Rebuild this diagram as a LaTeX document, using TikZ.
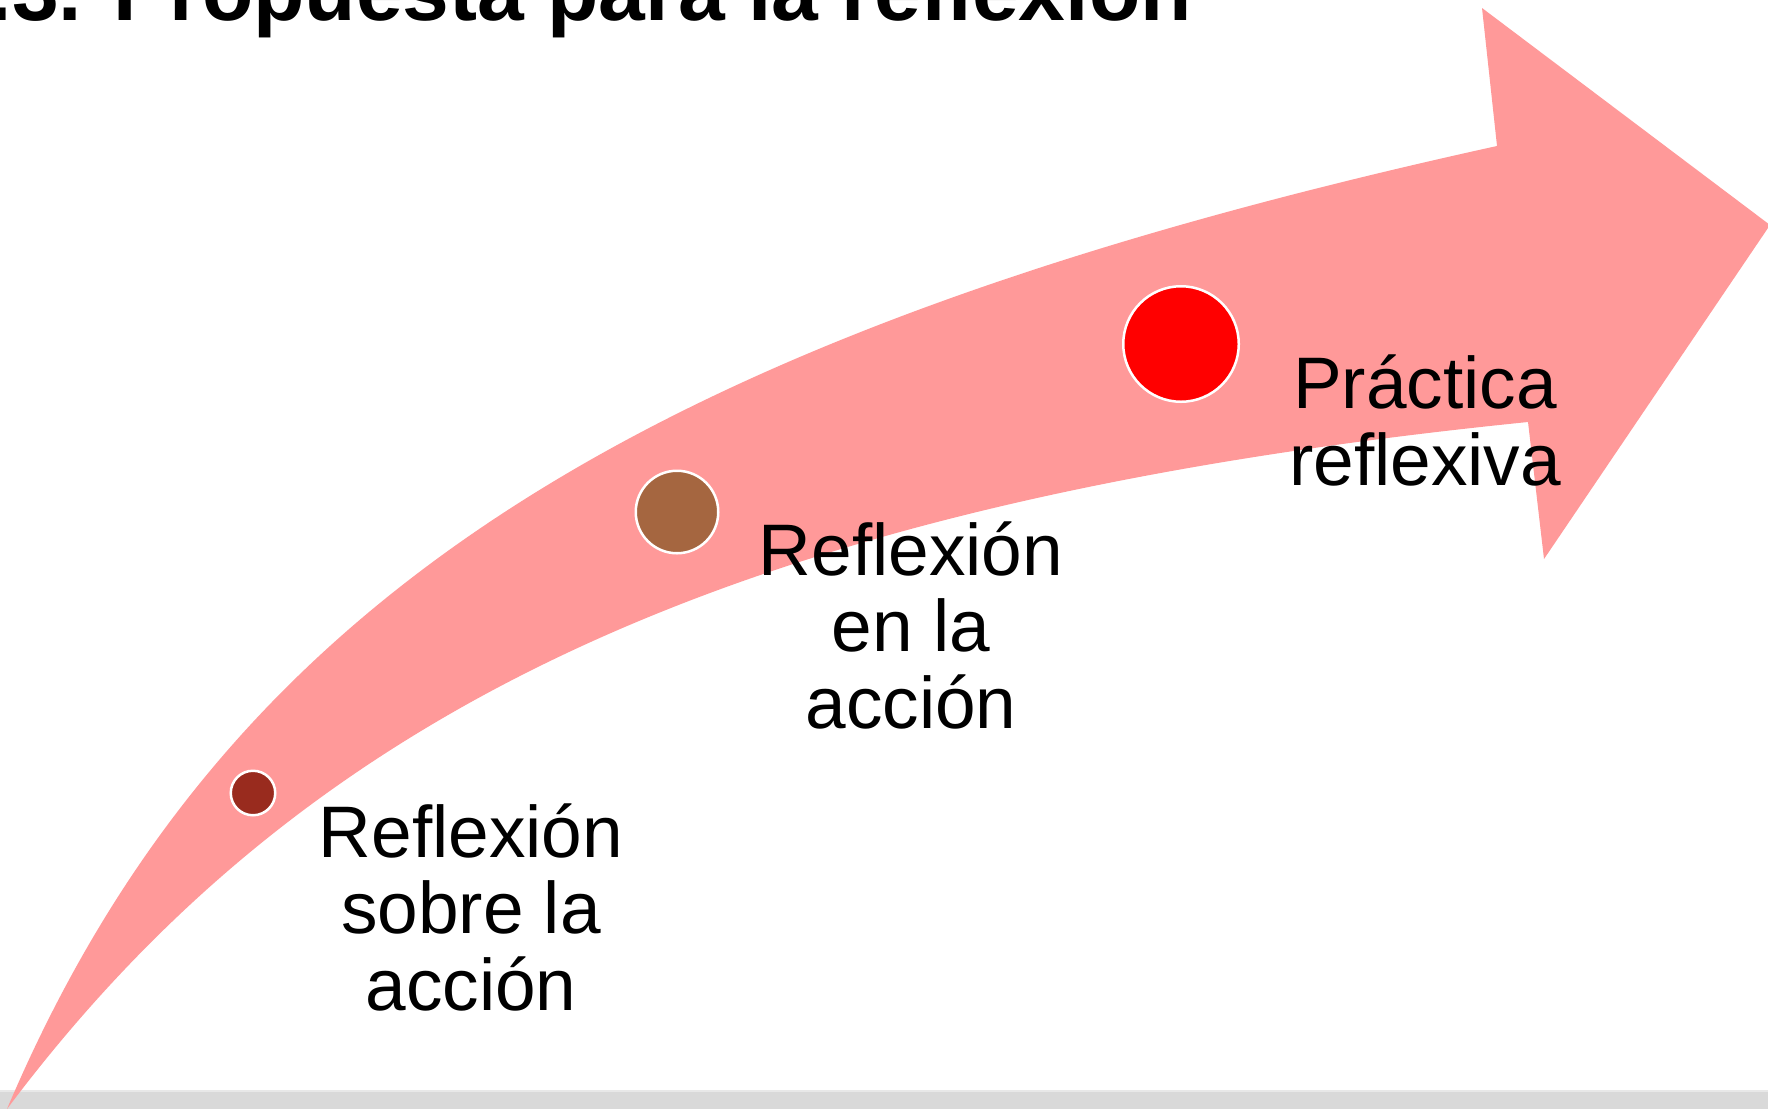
\documentclass[tikz,border=0pt]{standalone}
\usepackage{fontspec}
\setmainfont{Liberation Sans}
\definecolor{arrowpink}{RGB}{255,153,153}
\definecolor{dotone}{RGB}{153,43,30}
\definecolor{dottwo}{RGB}{165,102,64}
\definecolor{dotthree}{RGB}{255,0,0}
\definecolor{barfill}{RGB}{217,217,217}
\definecolor{barline}{RGB}{232,232,232}
\begin{document}
\begin{tikzpicture}[x=1pt,y=-1pt,
  dotnode/.style={circle, draw=white, line width=2.5pt, inner sep=0pt},
  steplabel/.style={align=center, inner sep=0pt, font=\fontsize{73}{76.5}\selectfont, anchor=base},
  titletext/.style={inner sep=0pt, anchor=base west, font=\fontsize{84}{90}\selectfont\bfseries}]
\useasboundingbox (0,0) rectangle (1768,1109);
\clip (0,0) rectangle (1768,1109);
\fill[white] (0,0) rectangle (1768,1109);
% bottom bar
\fill[barfill] (0,1090) rectangle (1768,1109);
\fill[barline] (0,1090) rectangle (1768,1092);
% title (cut at top, as in the reference)
\node[titletext] (title) at (-58,20) {2.3. Propuesta para la reflexión};
% curved arrow
\fill[arrowpink] (7,1109) .. controls (221.5,603) and (637,335) .. (1497,146)
  -- (1482,8) -- (1770,225) -- (1544,559) -- (1528,422)
  .. controls (736,502) and (307,709) .. (7,1109) -- cycle;
% dots
\node[dotnode, fill=dotone, minimum size=44.5pt] (d1) at (253,793) {};
\node[dotnode, fill=dottwo, minimum size=82.5pt] (d2) at (677,512) {};
\node[dotnode, fill=dotthree, minimum size=115.5pt] (d3) at (1181,344) {};
% labels (anchor base = baseline of last line)
\node[steplabel] (l1) at (471,1010) {Reflexión\\sobre la\\acción};
\node[steplabel] (l2) at (911,728) {Reflexión\\en la\\acción};
\node[steplabel] (l3) at (1425,485) {Práctica\\reflexiva};
\end{tikzpicture}
\end{document}
